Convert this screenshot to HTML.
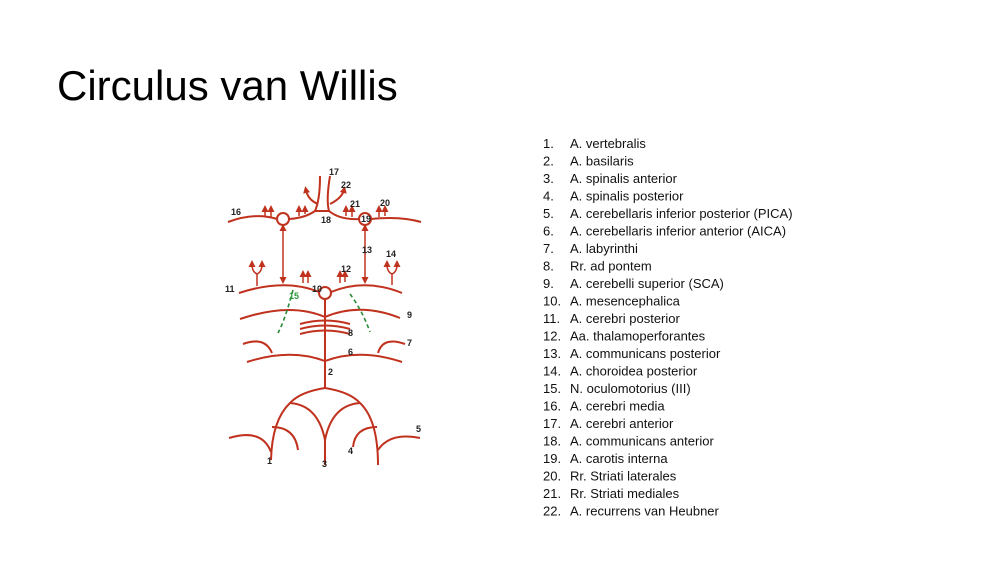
<!DOCTYPE html>
<html><head><meta charset="utf-8"><style>
body{margin:0;width:1000px;height:563px;background:#fff;overflow:hidden;position:relative;font-family:"Liberation Sans",sans-serif}
.t{position:absolute;left:57px;top:62px;font-size:42px;color:#000;white-space:nowrap}
svg{position:absolute;left:0;top:0}
</style></head><body>
<div class="t">Circulus van Willis</div>
<svg width="1000" height="563" viewBox="0 0 1000 563">
<defs><marker id="a" markerWidth="7" markerHeight="7" refX="3" refY="3.5" orient="auto-start-reverse" markerUnits="userSpaceOnUse"><path d="M0,0 L7,3.5 L0,7z" fill="#c0321e"/></marker></defs>
<g fill="none" stroke="#c0321e" stroke-width="2">
<path d="M228,222 Q255,212 277,219"/>
<circle cx="283" cy="219" r="6"/>
<path d="M289,219 Q305,218 315,211 L329,211 Q340,220 359,219"/>
<circle cx="365" cy="219" r="6"/>
<path d="M371,219 Q400,216 421,222"/>
<path d="M315,211 Q320,200 320,176"/>
<path d="M329,211 Q326,200 330,176"/>
<path d="M318,204 Q308,200 306,190" marker-end="url(#a)"/>
<path d="M330,204 Q342,198 344,190" marker-end="url(#a)"/>
<g stroke-width="1.5">
<path d="M265,217 V209" marker-end="url(#a)"/><path d="M271,217 V209" marker-end="url(#a)"/>
<path d="M299,216 V209" marker-end="url(#a)"/><path d="M305,214 V209" marker-end="url(#a)"/>
<path d="M346,216 V209" marker-end="url(#a)"/><path d="M352,217 V209" marker-end="url(#a)"/>
<path d="M379,217 V209" marker-end="url(#a)"/><path d="M385,216 V209" marker-end="url(#a)"/>
</g>
<path d="M283,228 V280" marker-start="url(#a)" marker-end="url(#a)" stroke-width="1.5"/>
<path d="M365,228 V280" marker-start="url(#a)" marker-end="url(#a)" stroke-width="1.5"/>
<path d="M239,293 Q285,278 319,292"/>
<circle cx="325" cy="293" r="6"/>
<path d="M331,292 Q365,278 402,293"/>
<g stroke-width="1.5">
<path d="M257,286 V274"/>
<path d="M257,274 Q252,272 252,264" marker-end="url(#a)"/>
<path d="M257,274 Q262,272 262,264" marker-end="url(#a)"/>
<path d="M392,285 V274"/>
<path d="M392,274 Q387,272 387,264" marker-end="url(#a)"/>
<path d="M392,274 Q397,272 397,264" marker-end="url(#a)"/>
<path d="M303,283 V274" marker-end="url(#a)"/><path d="M308,283 V274" marker-end="url(#a)"/>
<path d="M340,283 V274" marker-end="url(#a)"/><path d="M345,282 V274" marker-end="url(#a)"/>
</g>
<path d="M325,299 V388"/>
<path d="M240,319 Q290,302 325,317 Q360,302 400,318"/>
<path d="M300,324 Q325,317 350,324 M300,329 Q325,322 350,329 M300,334 Q325,327 350,334"/>
<path d="M247,362 Q290,348 325,361 Q360,348 402,362"/>
<path d="M243,344 Q265,336 272,353"/>
<path d="M405,344 Q383,336 378,353"/>
<path d="M325,388 Q300,392 290,403 Q272,420 271,460"/>
<path d="M325,388 Q350,392 360,403 Q378,420 378,465"/>
<path d="M290,403 Q318,405 325,440 M360,403 Q332,405 325,440"/>
<path d="M325,440 V465"/>
<path d="M272,427 Q295,427 298,450"/>
<path d="M377,427 Q355,427 353,447"/>
<path d="M229,438 Q262,428 271,452"/>
<path d="M378,450 Q390,432 420,438"/>
</g>
<g fill="none" stroke="#2a8a3a" stroke-width="1.6" stroke-dasharray="4,3">
<path d="M293,290 Q285,320 278,333"/>
<path d="M350,294 Q362,310 370,332"/>
</g>
<g font-family="Liberation Sans,sans-serif" font-size="9" font-weight="bold" fill="#222">
<text x="329" y="175">17</text><text x="341" y="188">22</text><text x="350" y="207">21</text><text x="380" y="206">20</text>
<text x="231" y="215">16</text><text x="321" y="223">18</text><text x="361" y="222">19</text>
<text x="362" y="253">13</text><text x="386" y="257">14</text><text x="341" y="272">12</text>
<text x="225" y="292">11</text><text x="312" y="292">10</text><text fill="#2a9a3a" x="289" y="299">15</text>
<text x="407" y="318">9</text><text x="348" y="336">8</text><text x="407" y="346">7</text><text x="348" y="355">6</text>
<text x="328" y="375">2</text><text x="416" y="432">5</text><text x="348" y="454">4</text>
<text x="267" y="464">1</text><text x="322" y="467">3</text>
</g>
<g font-family="Liberation Sans,sans-serif" font-size="13" fill="#111">
<text y="148"><tspan x="543">1.</tspan><tspan x="570">A. vertebralis</tspan></text>
<text y="165.5"><tspan x="543">2.</tspan><tspan x="570">A. basilaris</tspan></text>
<text y="183"><tspan x="543">3.</tspan><tspan x="570">A. spinalis anterior</tspan></text>
<text y="200.5"><tspan x="543">4.</tspan><tspan x="570">A. spinalis posterior</tspan></text>
<text y="218"><tspan x="543">5.</tspan><tspan x="570">A. cerebellaris inferior posterior (PICA)</tspan></text>
<text y="235.5"><tspan x="543">6.</tspan><tspan x="570">A. cerebellaris inferior anterior (AICA)</tspan></text>
<text y="253"><tspan x="543">7.</tspan><tspan x="570">A. labyrinthi</tspan></text>
<text y="270.5"><tspan x="543">8.</tspan><tspan x="570">Rr. ad pontem</tspan></text>
<text y="288"><tspan x="543">9.</tspan><tspan x="570">A. cerebelli superior (SCA)</tspan></text>
<text y="305.5"><tspan x="543">10.</tspan><tspan x="570">A. mesencephalica</tspan></text>
<text y="323"><tspan x="543">11.</tspan><tspan x="570">A. cerebri posterior</tspan></text>
<text y="340.5"><tspan x="543">12.</tspan><tspan x="570">Aa. thalamoperforantes</tspan></text>
<text y="358"><tspan x="543">13.</tspan><tspan x="570">A. communicans posterior</tspan></text>
<text y="375.5"><tspan x="543">14.</tspan><tspan x="570">A. choroidea posterior</tspan></text>
<text y="393"><tspan x="543">15.</tspan><tspan x="570">N. oculomotorius (III)</tspan></text>
<text y="410.5"><tspan x="543">16.</tspan><tspan x="570">A. cerebri media</tspan></text>
<text y="428"><tspan x="543">17.</tspan><tspan x="570">A. cerebri anterior</tspan></text>
<text y="445.5"><tspan x="543">18.</tspan><tspan x="570">A. communicans anterior</tspan></text>
<text y="463"><tspan x="543">19.</tspan><tspan x="570">A. carotis interna</tspan></text>
<text y="480.5"><tspan x="543">20.</tspan><tspan x="570">Rr. Striati laterales</tspan></text>
<text y="498"><tspan x="543">21.</tspan><tspan x="570">Rr. Striati mediales</tspan></text>
<text y="515.5"><tspan x="543">22.</tspan><tspan x="570">A. recurrens van Heubner</tspan></text>
</g>
</svg>
</body></html>
